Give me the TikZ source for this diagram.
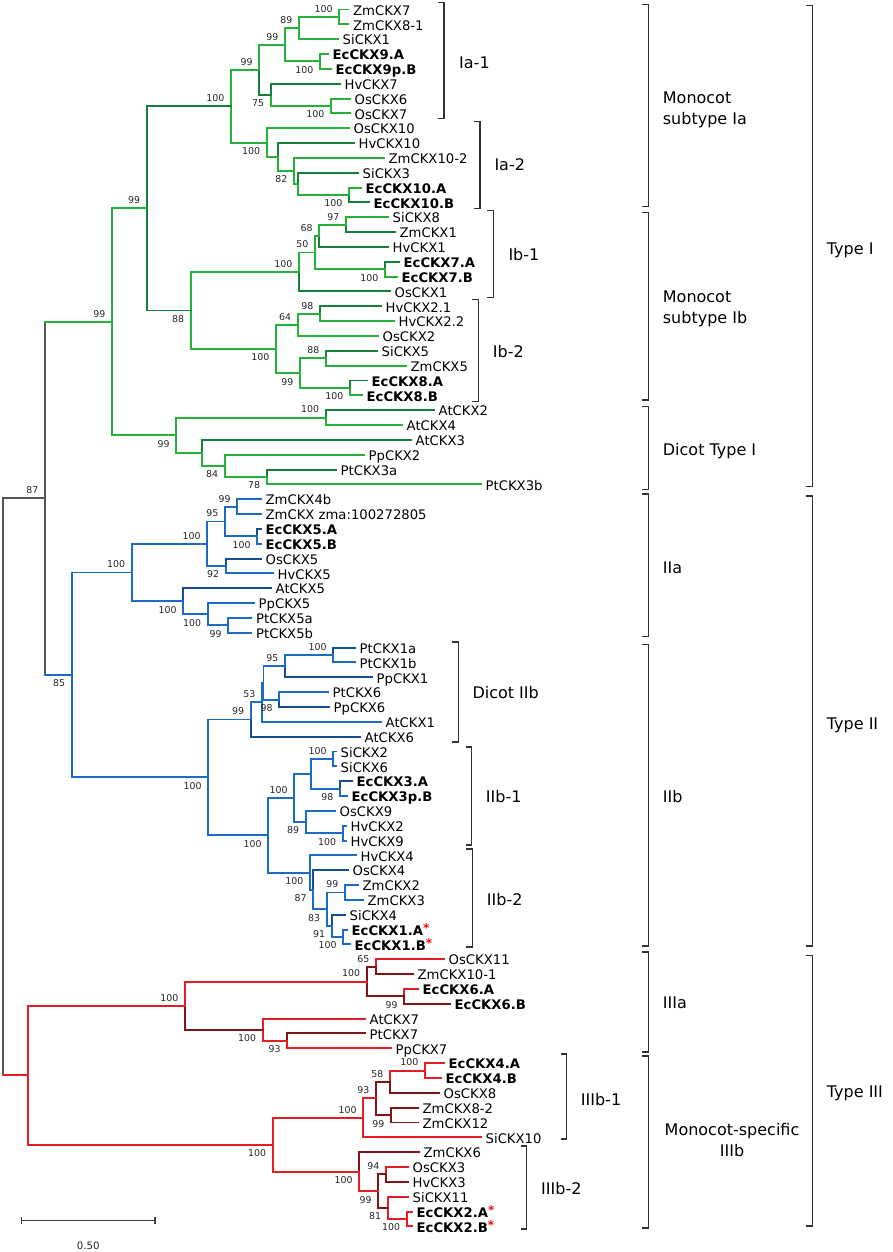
\documentclass[tikz,border=0pt]{standalone}
\usepackage{fontspec}
\setmainfont{DejaVu Sans}
\usetikzlibrary{calc}
\definecolor{gD}{RGB}{22,128,58}
\definecolor{gB}{RGB}{38,178,56}
\definecolor{bD}{RGB}{22,78,148}
\definecolor{bB}{RGB}{28,108,198}
\definecolor{rB}{RGB}{228,30,36}
\definecolor{rD}{RGB}{128,20,24}
\definecolor{grl}{RGB}{85,85,85}
\tikzset{
  brl/.style={line width=1.95pt, line join=miter, line cap=rect},
  leaf/.style={inner sep=0pt, font=\fontsize{13.2}{14}\selectfont, text=black},
  bld/.style={font=\fontsize{13.2}{14}\selectfont\bfseries},
  bsl/.style={inner sep=0pt, font=\fontsize{9.4}{10}\selectfont, text=black!85},
  grp/.style={inner sep=0pt, font=\fontsize{16}{21}\selectfont, text=black},
  bkl/.style={line width=1.2pt, draw=black!80},
}
\newcommand\tlf[5][]{\pgfmathsetmacro\tyy{-(9.5+(#3-1)*14.84)}%
  \coordinate (#2) at (#4pt,\tyy pt);%
  \node[leaf,#1,anchor=base west] (#2-t) at ([xshift=4.5pt,yshift=-5.7pt]#2) {#5};}
\newcommand\tnd[4]{\path let \p1=(#3), \p2=(#4) in coordinate (#1) at (#2pt,{0.5*\y1+0.5*\y2});}
\newcommand\tbr[3]{\draw[brl,#1] (#2) |- (#3);}
\newcommand\tba[2]{\node[bsl,anchor=south east] (#1-l) at ([xshift=-6.5pt,yshift=4.3pt]#1) {#2};}
\newcommand\tbb[2]{\node[bsl,anchor=north east] (#1-l) at ([xshift=-6.5pt,yshift=-4.8pt]#1) {#2};}
\newcommand\tbk[3]{\draw[bkl] ({#1pt-6pt},-#2pt) -- (#1pt,-#2pt) -- (#1pt,-#3pt) -- ({#1pt-6pt},-#3pt);}
\newcommand\rst{\textcolor{red}{\raisebox{2.5pt}{\fontsize{12}{12}\selectfont *}}}
\begin{document}
\begin{tikzpicture}[x=1pt,y=1pt]
\useasboundingbox (0pt,0pt) rectangle (892pt,-1252pt);
\fill[white] (0pt,0pt) rectangle (892pt,-1252pt);
% ---------------- leaves ----------------
\tlf{zm7}{1}{348.5}{ZmCKX7}
\tlf{zm81}{2}{348.5}{ZmCKX8-1}
\tlf{si1}{3}{338}{SiCKX1}
\tlf[bld]{ec9a}{4}{328}{EcCKX9.A}
\tlf[bld]{ec9b}{5}{331}{EcCKX9p.B}
\tlf{hv7}{6}{340}{HvCKX7}
\tlf{os6}{7}{350}{OsCKX6}
\tlf{os7}{8}{350}{OsCKX7}
\tlf{os10}{9}{349}{OsCKX10}
\tlf{hv10}{10}{354}{HvCKX10}
\tlf{zm102}{11}{384}{ZmCKX10-2}
\tlf{si3}{12}{358}{SiCKX3}
\tlf[bld]{ec10a}{13}{361}{EcCKX10.A}
\tlf[bld]{ec10b}{14}{369}{EcCKX10.B}
\tlf{si8}{15}{388}{SiCKX8}
\tlf{zm1}{16}{395}{ZmCKX1}
\tlf{hv1}{17}{388}{HvCKX1}
\tlf[bld]{ec7a}{18}{399}{EcCKX7.A}
\tlf[bld]{ec7b}{19}{397}{EcCKX7.B}
\tlf{os1}{20}{390}{OsCKX1}
\tlf{hv21}{21}{381}{HvCKX2.1}
\tlf{hv22}{22}{394}{HvCKX2.2}
\tlf{os2}{23}{378}{OsCKX2}
\tlf{si5}{24}{377}{SiCKX5}
\tlf{zm5}{25}{406}{ZmCKX5}
\tlf[bld]{ec8a}{26}{367}{EcCKX8.A}
\tlf[bld]{ec8b}{27}{362}{EcCKX8.B}
\tlf{at2}{28}{434}{AtCKX2}
\tlf{at4}{29}{402}{AtCKX4}
\tlf{at3}{30}{411}{AtCKX3}
\tlf{pp2}{31}{364}{PpCKX2}
\tlf{pt3a}{32}{336}{PtCKX3a}
\tlf{pt3b}{33}{481}{PtCKX3b}
\tlf{zm4b}{34}{261}{ZmCKX4b}
\tlf{zma}{35}{261}{ZmCKX zma:100272805}
\tlf[bld]{ec5a}{36}{261}{EcCKX5.A}
\tlf[bld]{ec5b}{37}{261}{EcCKX5.B}
\tlf{os5}{38}{261}{OsCKX5}
\tlf{hv5}{39}{273}{HvCKX5}
\tlf{at5}{40}{271}{AtCKX5}
\tlf{pp5}{41}{254}{PpCKX5}
\tlf{pt5a}{42}{251.5}{PtCKX5a}
\tlf{pt5b}{43}{251.5}{PtCKX5b}
\tlf{pt1a}{44}{355}{PtCKX1a}
\tlf{pt1b}{45}{355}{PtCKX1b}
\tlf{pp1}{46}{372}{PpCKX1}
\tlf{pt6}{47}{328}{PtCKX6}
\tlf{pp6}{48}{329}{PpCKX6}
\tlf{at1}{49}{381}{AtCKX1}
\tlf{at6}{50}{360}{AtCKX6}
\tlf{si2}{51}{336}{SiCKX2}
\tlf{si6}{52}{336}{SiCKX6}
\tlf[bld]{ec3a}{53}{352}{EcCKX3.A}
\tlf[bld]{ec3b}{54}{347}{EcCKX3p.B}
\tlf{os9}{55}{335}{OsCKX9}
\tlf{hv2}{56}{346}{HvCKX2}
\tlf{hv9}{57}{346}{HvCKX9}
\tlf{hv4}{58}{356}{HvCKX4}
\tlf{os4}{59}{348}{OsCKX4}
\tlf{zm2}{60}{358}{ZmCKX2}
\tlf{zm3}{61}{363}{ZmCKX3}
\tlf{si4}{62}{345}{SiCKX4}
\tlf[bld]{ec1a}{63}{347}{EcCKX1.A\rst}
\tlf[bld]{ec1b}{64}{350}{EcCKX1.B\rst}
\tlf{os11}{65}{444}{OsCKX11}
\tlf{zm101}{66}{413}{ZmCKX10-1}
\tlf[bld]{ec6a}{67}{418}{EcCKX6.A}
\tlf[bld]{ec6b}{68}{450}{EcCKX6.B}
\tlf{at7}{69}{365}{AtCKX7}
\tlf{pt7}{70}{365}{PtCKX7}
\tlf{pp7}{71}{391}{PpCKX7}
\tlf[bld]{ec4a}{72}{444}{EcCKX4.A}
\tlf[bld]{ec4b}{73}{441}{EcCKX4.B}
\tlf{os8}{74}{439}{OsCKX8}
\tlf{zm82}{75}{418}{ZmCKX8-2}
\tlf{zm12}{76}{418}{ZmCKX12}
\tlf{si10}{77}{481}{SiCKX10}
\tlf{zm6}{78}{419}{ZmCKX6}
\tlf{os3}{79}{408}{OsCKX3}
\tlf{hv3}{80}{408}{HvCKX3}
\tlf{si11}{81}{408}{SiCKX11}
\tlf[bld]{ec2a}{82}{412}{EcCKX2.A\rst}
\tlf[bld]{ec2b}{83}{412}{EcCKX2.B\rst}
% ---------------- internal nodes ----------------
\tnd{A1}{339.3}{zm7}{zm81}
\tnd{A2}{299}{A1}{si1}
\tnd{A3}{320}{ec9a}{ec9b}
\tnd{A4}{285}{A2}{A3}
\tnd{A5}{331}{os6}{os7}
\tnd{A6}{270.7}{hv7}{A5}
\tnd{A7}{259.3}{A4}{A6}
\tnd{B1}{349}{ec10a}{ec10b}
\tnd{B2}{298.3}{si3}{B1}
\tnd{B3}{294}{zm102}{B2}
\tnd{B4}{277.7}{hv10}{B3}
\tnd{B5}{266.7}{os10}{B4}
\tnd{Ia}{231}{A7}{B5}
\tnd{C1}{346}{si8}{zm1}
\tnd{C2}{319.3}{C1}{hv1}
\tnd{C3}{385}{ec7a}{ec7b}
\tnd{C4}{315}{C2}{C3}
\tnd{C5}{299}{C4}{os1}
\tnd{D1}{320}{hv21}{hv22}
\tnd{D2}{297.7}{D1}{os2}
\tnd{D3}{326}{si5}{zm5}
\tnd{D4}{350}{ec8a}{ec8b}
\tnd{D5}{300}{D3}{D4}
\tnd{D6}{276}{D2}{D5}
\tnd{Ib}{190.7}{C5}{D6}
\tnd{IaIb}{146.7}{Ia}{Ib}
\tnd{E1}{325.7}{at2}{at4}
\tnd{E2}{266.8}{pt3a}{pt3b}
\tnd{E3}{224.9}{pp2}{E2}
\tnd{E4}{202}{at3}{E3}
\tnd{E5}{176.3}{E1}{E4}
\tnd{T1}{112}{IaIb}{E5}
\tnd{F1}{237.3}{zm4b}{zma}
\tnd{F2}{257.3}{ec5a}{ec5b}
\tnd{F3}{225}{F1}{F2}
\tnd{F4}{225.7}{os5}{hv5}
\tnd{F5}{207.3}{F3}{F4}
\tnd{G1}{228.3}{pt5a}{pt5b}
\tnd{G2}{207.7}{pp5}{G1}
\tnd{G3}{183.3}{at5}{G2}
\tnd{IIa}{131.7}{F5}{G3}
\tnd{H1}{333.3}{pt1a}{pt1b}
\tnd{H2}{285}{H1}{pp1}
\tnd{H3}{279.3}{pt6}{pp6}
\tnd{H0}{263.5}{H2}{H3}
\tnd{N53}{262}{H0}{at1}
\tnd{N99}{250.7}{N53}{at6}
\tnd{I1}{333.3}{si2}{si6}
\tnd{I2}{340}{ec3a}{ec3b}
\tnd{I3}{311}{I1}{I2}
\tnd{I4}{342.7}{hv2}{hv9}
\tnd{I5}{305.7}{os9}{I4}
\tnd{I6}{294.3}{I3}{I5}
\tnd{J1}{345}{zm2}{zm3}
\tnd{J2}{343.3}{ec1a}{ec1b}
\tnd{J3}{331.7}{si4}{J2}
\tnd{J4}{326.7}{J1}{J3}
\tnd{J5}{313.3}{os4}{J4}
\tnd{J6}{310}{hv4}{J5}
\tnd{IIbm}{268.3}{I6}{J6}
\tnd{IIb}{208.3}{N99}{IIbm}
\tnd{T2}{71.7}{IIa}{IIb}
\tnd{N87}{45}{T1}{T2}
\tnd{K1}{376}{os11}{zm101}
\tnd{K2}{404.3}{ec6a}{ec6b}
\tnd{K3}{366.7}{K1}{K2}
\tnd{K4}{287.3}{pt7}{pp7}
\tnd{K5}{262.7}{at7}{K4}
\tnd{IIIa}{185}{K3}{K5}
\tnd{L1}{425}{ec4a}{ec4b}
\tnd{L2}{390}{L1}{os8}
\tnd{L3}{391}{zm82}{zm12}
\tnd{L4}{376}{L2}{L3}
\tnd{L5}{363.3}{L4}{si10}
\tnd{M1}{386}{os3}{hv3}
\tnd{M2}{406.7}{ec2a}{ec2b}
\tnd{M3}{387.7}{si11}{M2}
\tnd{M4}{378.3}{M1}{M3}
\tnd{M5}{359.3}{zm6}{M4}
\tnd{IIIb}{272.7}{L5}{M5}
\tnd{T3}{28.3}{IIIa}{IIIb}
\tnd{root}{3}{N87}{T3}
% ---------------- branches: Type I ----------------
\tbr{gB}{A1}{zm7}\tbr{gB}{A1}{zm81}
\tbr{gB}{A2}{A1}\tbr{gB}{A2}{si1}
\tbr{gB}{A3}{ec9a}\tbr{gB}{A3}{ec9b}
\tbr{gB}{A4}{A2}\tbr{gB}{A4}{A3}
\tbr{gB}{A5}{os6}\tbr{gB}{A5}{os7}
\tbr{gD}{A6}{hv7}\tbr{gB}{A6}{A5}
\tbr{gB}{A7}{A4}\tbr{gD}{A7}{A6}
\tbr{gB}{B1}{ec10a}\tbr{gD}{B1}{ec10b}
\tbr{gD}{B2}{si3}\tbr{gB}{B2}{B1}
\tbr{gB}{B3}{zm102}\tbr{gB}{B3}{B2}
\tbr{gD}{B4}{hv10}\tbr{gB}{B4}{B3}
\tbr{gB}{B5}{os10}\tbr{gB}{B5}{B4}
\tbr{gB}{Ia}{A7}\tbr{gB}{Ia}{B5}
\tbr{gB}{C1}{si8}\tbr{gD}{C1}{zm1}
\tbr{gB}{C2}{C1}\tbr{gD}{C2}{hv1}
\tbr{gD}{C3}{ec7a}\tbr{gB}{C3}{ec7b}
\tbr{gB}{C4}{C2}\tbr{gB}{C4}{C3}
\tbr{gB}{C5}{C4}\tbr{gD}{C5}{os1}
\tbr{gD}{D1}{hv21}\tbr{gB}{D1}{hv22}
\tbr{gB}{D2}{D1}\tbr{gB}{D2}{os2}
\tbr{gD}{D3}{si5}\tbr{gB}{D3}{zm5}
\tbr{gD}{D4}{ec8a}\tbr{gB}{D4}{ec8b}
\tbr{gB}{D5}{D3}\tbr{gB}{D5}{D4}
\tbr{gB}{D6}{D2}\tbr{gB}{D6}{D5}
\tbr{gB}{Ib}{C5}\tbr{gB}{Ib}{D6}
\tbr{gD}{IaIb}{Ia}\tbr{gD}{IaIb}{Ib}
\tbr{gD}{E1}{at2}\tbr{gB}{E1}{at4}
\tbr{gD}{E2}{pt3a}\tbr{gB}{E2}{pt3b}
\tbr{gB}{E3}{pp2}\tbr{gB}{E3}{E2}
\tbr{gD}{E4}{at3}\tbr{gB}{E4}{E3}
\tbr{gB}{E5}{E1}\tbr{gB}{E5}{E4}
\tbr{gB}{T1}{IaIb}\tbr{gB}{T1}{E5}
% ---------------- branches: Type II ----------------
\tbr{bB}{F1}{zm4b}\tbr{bB}{F1}{zma}
\tbr{bD}{F2}{ec5a}\tbr{bB}{F2}{ec5b}
\tbr{bB}{F3}{F1}\tbr{bB}{F3}{F2}
\tbr{bD}{F4}{os5}\tbr{bB}{F4}{hv5}
\tbr{bB}{F5}{F3}\tbr{bB}{F5}{F4}
\tbr{bB}{G1}{pt5a}\tbr{bB}{G1}{pt5b}
\tbr{bB}{G2}{pp5}\tbr{bB}{G2}{G1}
\tbr{bD}{G3}{at5}\tbr{bB}{G3}{G2}
\tbr{bB}{IIa}{F5}\tbr{bB}{IIa}{G3}
\tbr{bD}{H1}{pt1a}\tbr{bB}{H1}{pt1b}
\tbr{bB}{H2}{H1}\tbr{bD}{H2}{pp1}
\tbr{bB}{H3}{pt6}\tbr{bD}{H3}{pp6}
\tbr{bB}{H0}{H2}\tbr{bB}{H0}{H3}
\tbr{bB}{N53}{H0}\tbr{bB}{N53}{at1}
\tbr{bB}{N99}{N53}\tbr{bD}{N99}{at6}
\tbr{bB}{I1}{si2}\tbr{bB}{I1}{si6}
\tbr{bD}{I2}{ec3a}\tbr{bB}{I2}{ec3b}
\tbr{bB}{I3}{I1}\tbr{bB}{I3}{I2}
\tbr{bB}{I4}{hv2}\tbr{bB}{I4}{hv9}
\tbr{bB}{I5}{os9}\tbr{bB}{I5}{I4}
\tbr{bB}{I6}{I3}\tbr{bB}{I6}{I5}
\tbr{bB}{J1}{zm2}\tbr{bB}{J1}{zm3}
\tbr{bB}{J2}{ec1a}\tbr{bB}{J2}{ec1b}
\tbr{bD}{J3}{si4}\tbr{bB}{J3}{J2}
\tbr{bB}{J4}{J1}\tbr{bB}{J4}{J3}
\tbr{bD}{J5}{os4}\tbr{bB}{J5}{J4}
\tbr{bB}{J6}{hv4}\tbr{bB}{J6}{J5}
\tbr{bB}{IIbm}{I6}\tbr{bB}{IIbm}{J6}
\tbr{bB}{IIb}{N99}\tbr{bB}{IIb}{IIbm}
\tbr{bB}{T2}{IIa}\tbr{bB}{T2}{IIb}
% ---------------- branches: Type III ----------------
\tbr{rB}{K1}{os11}\tbr{rD}{K1}{zm101}
\tbr{rB}{K2}{ec6a}\tbr{rD}{K2}{ec6b}
\tbr{rD}{K3}{K1}\tbr{rD}{K3}{K2}
\tbr{rD}{K4}{pt7}\tbr{rB}{K4}{pp7}
\tbr{rB}{K5}{at7}\tbr{rB}{K5}{K4}
\tbr{rB}{IIIa}{K3}\tbr{rD}{IIIa}{K5}
\tbr{rB}{L1}{ec4a}\tbr{rB}{L1}{ec4b}
\tbr{rB}{L2}{L1}\tbr{rD}{L2}{os8}
\tbr{rD}{L3}{zm82}\tbr{rD}{L3}{zm12}
\tbr{rD}{L4}{L2}\tbr{rD}{L4}{L3}
\tbr{rB}{L5}{L4}\tbr{rB}{L5}{si10}
\tbr{rB}{M1}{os3}\tbr{rD}{M1}{hv3}
\tbr{rB}{M2}{ec2a}\tbr{rB}{M2}{ec2b}
\tbr{rB}{M3}{si11}\tbr{rB}{M3}{M2}
\tbr{rD}{M4}{M1}\tbr{rD}{M4}{M3}
\tbr{rD}{M5}{zm6}\tbr{rB}{M5}{M4}
\tbr{rB}{IIIb}{L5}\tbr{rB}{IIIb}{M5}
\tbr{rB}{T3}{IIIa}\tbr{rB}{T3}{IIIb}
% ---------------- root ----------------
\draw[brl,grl] (N87 |- T1) -- (N87 |- T2);
\draw[brl,gB] (N87 |- T1) -- (T1);
\draw[brl,bB] (N87 |- T2) -- (T2);
\draw[brl,grl] (root |- N87) -- (root |- T3);
\draw[brl,grl] (root |- N87) -- (N87);
\draw[brl,rB] (root |- T3) -- (T3);
% ---------------- bootstrap ----------------
\tba{A1}{100}\tba{A2}{89}\tbb{A3}{100}\tba{A4}{99}\tbb{A5}{100}\tbb{A6}{75}\tba{A7}{99}
\tbb{B1}{100}\tbb{B3}{82}\tbb{B5}{100}\tba{Ia}{100}
\tba{C1}{97}\tba{C2}{68}\tbb{C3}{100}\tba{C4}{50}\tba{C5}{100}
\tba{D1}{98}\tba{D2}{64}\tba{D3}{88}\tbb{D4}{100}\tbb{D5}{99}\tbb{D6}{100}
\tbb{Ib}{88}\tba{IaIb}{99}
\tba{E1}{100}\tbb{E2}{78}\tbb{E3}{84}\tbb{E5}{99}\tba{T1}{99}
\tba{F1}{99}\tbb{F2}{100}\tba{F3}{95}\tbb{F4}{92}\tba{F5}{100}
\tbb{G1}{99}\tbb{G2}{100}\tbb{G3}{100}\tba{IIa}{100}
\tba{H1}{100}\tba{H2}{95}\tbb{H3}{98}\tba{N53}{53}\tba{N99}{99}
\tba{I1}{100}\tbb{I2}{98}\tbb{I4}{100}\tbb{I5}{89}\tba{I6}{100}
\tba{J1}{99}\tbb{J2}{100}\tbb{J3}{91}\tbb{J4}{83}\tbb{J5}{87}\tbb{J6}{100}
\tbb{IIbm}{100}\tbb{IIb}{100}\tbb{T2}{85}\tba{N87}{87}
\tba{K1}{65}\tbb{K2}{99}\tba{K3}{100}\tbb{K4}{93}\tbb{K5}{100}\tba{IIIa}{100}
\tba{L1}{100}\tba{L2}{58}\tbb{L3}{99}\tba{L4}{93}\tba{L5}{100}
\tba{M1}{94}\tbb{M2}{100}\tbb{M3}{81}\tbb{M4}{99}\tbb{M5}{100}\tbb{IIIb}{100}
% ---------------- brackets ----------------
\tbk{444}{2.5}{118.5}
\tbk{480}{121.7}{208.3}
\tbk{493.3}{210.7}{297.2}
\tbk{478.3}{299.6}{401.2}
\tbk{458.3}{642}{742}
\tbk{471.7}{747}{845}
\tbk{472.3}{849}{947}
\tbk{566.7}{1054}{1139}
\tbk{526.7}{1146}{1229}
\tbk{648.3}{4.7}{206.3}
\tbk{648.3}{212.3}{400}
\tbk{648.3}{406.3}{489.3}
\tbk{648.3}{494}{636.8}
\tbk{648.3}{644.8}{946}
\tbk{648.3}{952}{1052}
\tbk{648.3}{1056}{1228}
\tbk{812.3}{5.9}{486.2}
\tbk{812.3}{496}{946}
\tbk{812.3}{955.2}{1226}
\node[grp,anchor=base west] (g1) at (459pt,-68.3pt) {Ia-1};
\node[grp,anchor=base west] (g2) at (494.3pt,-171pt) {Ia-2};
\node[grp,anchor=base west] (g3) at (508.3pt,-260.8pt) {Ib-1};
\node[grp,anchor=base west] (g4) at (492.7pt,-357.6pt) {Ib-2};
\node[grp,anchor=base west] (g5) at (472.3pt,-698.8pt) {Dicot IIb};
\node[grp,anchor=base west] (g6) at (485.7pt,-802.2pt) {IIb-1};
\node[grp,anchor=base west] (g7) at (486.7pt,-905.8pt) {IIb-2};
\node[grp,anchor=base west] (g8) at (580.7pt,-1105pt) {IIIb-1};
\node[grp,anchor=base west] (g9) at (541pt,-1194.6pt) {IIIb-2};
\node[grp,anchor=west,align=left] (h1) at (662.7pt,-110.3pt) {Monocot\\subtype Ia};
\node[grp,anchor=west,align=left] (h2) at (662.7pt,-308.9pt) {Monocot\\subtype Ib};
\node[grp,anchor=base west] (h3) at (662.7pt,-455.2pt) {Dicot Type I};
\node[grp,anchor=base west] (h4) at (662.7pt,-573.8pt) {IIa};
\node[grp,anchor=base west] (h5) at (662.7pt,-802.2pt) {IIb};
\node[grp,anchor=base west] (h6) at (662.7pt,-1008.6pt) {IIIa};
\node[grp,align=center] (h7) at (732pt,-1140pt) {Monocot-specific\\IIIb};
\node[grp,anchor=base west] (t1) at (826.7pt,-254pt) {Type I};
\node[grp,anchor=base west] (t2) at (826.7pt,-729pt) {Type II};
\node[grp,anchor=base west] (t3) at (826.7pt,-1097.8pt) {Type III};
% ---------------- scale bar ----------------
\coordinate (sbA) at (21.7pt,-1220.7pt);
\coordinate (sbB) at (155pt,-1220.7pt);
\draw[line width=1.2pt,draw=black!75] (sbA) -- (sbB);
\draw[line width=1.2pt,draw=black!75] ([yshift=3.6pt]sbA) -- ([yshift=-3.6pt]sbA);
\draw[line width=1.2pt,draw=black!75] ([yshift=3.6pt]sbB) -- ([yshift=-3.6pt]sbB);
\node[inner sep=0pt,font=\fontsize{10.2}{11}\selectfont,text=black!85] (sbl) at (88.3pt,-1246pt) {0.50};
\end{tikzpicture}
\end{document}
